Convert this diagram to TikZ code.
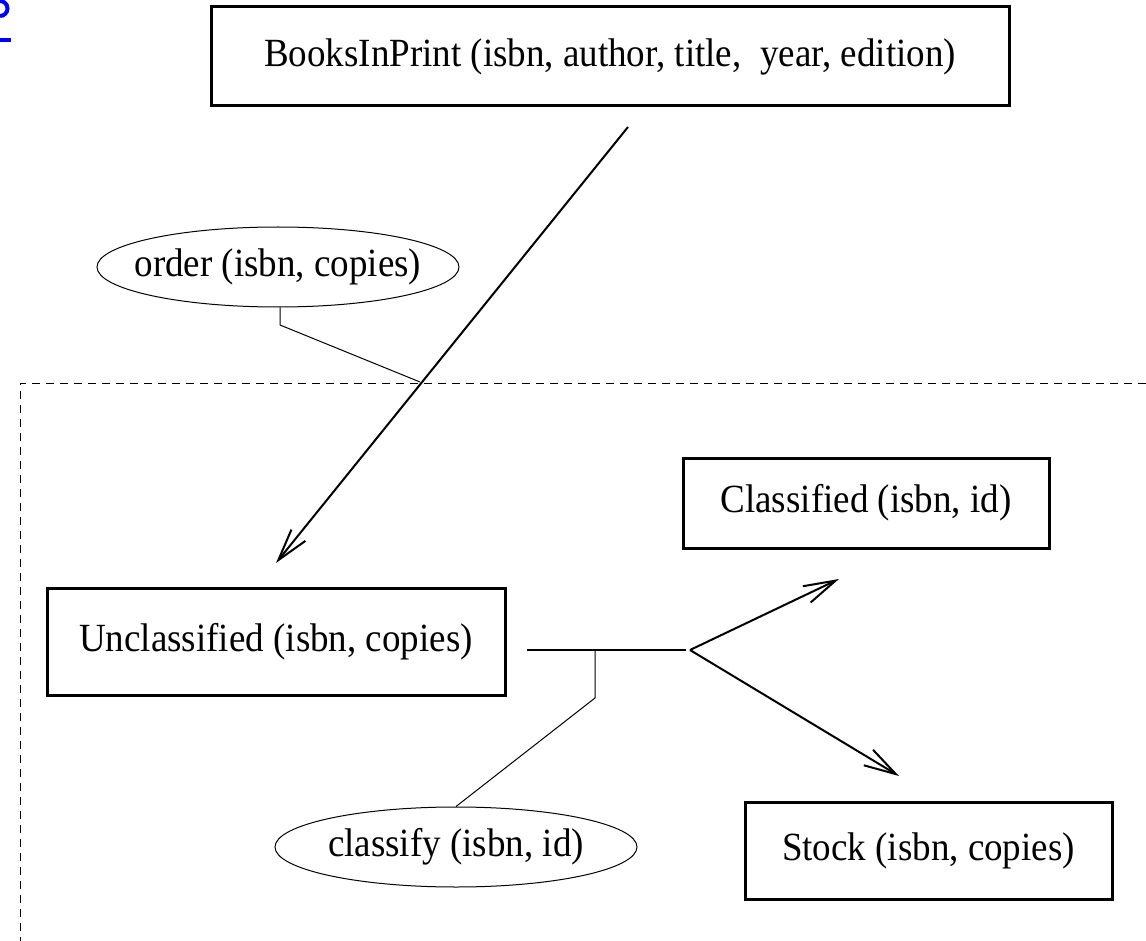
\documentclass[tikz,border=0pt]{standalone}
\usepackage{fontspec}
\setmainfont{Liberation Serif}[FakeStretch=0.925]
\usepackage{xcolor}
\usetikzlibrary{shapes.geometric,arrows.meta,positioning}
\definecolor{linkblue}{RGB}{0,0,255}

\begin{document}
\begin{tikzpicture}[x=0.5pt, y=-0.5pt]
    % Define styles
    \tikzset{
        relbox/.style={rectangle, draw=black, line width=1.5pt, inner sep=0pt, font=\fontsize{20pt}{24pt}\selectfont},
        opell/.style={ellipse, draw=black, line width=0.5pt, inner xsep=-8pt, inner ysep=0pt, minimum width=181pt, minimum height=40pt, font=\fontsize{20pt}{24pt}\selectfont},
        flow/.style={line width=1pt, -{Straight Barb[length=16pt, width=9pt]}},
        link/.style={line width=0.5pt},
        bound/.style={line width=0.5pt, dash pattern=on 4pt off 3pt}
    }
    \useasboundingbox (0,0) rectangle (1146,941);

    % Link fragment
    \draw[linkblue, line width=2pt] (0,1) arc[start angle=-90, end angle=90, radius=7.5];
    \fill[linkblue] (0,38) rectangle (11,42);

    % Boundary
    \draw[bound] (1146,383) -- (20,383) -- (20,941);

    % Relations
    \node[relbox, minimum width=399pt, minimum height=49.5pt] (books) at (610,56.5) {BooksInPrint (isbn, author, title,~ year, edition)};
    \node[relbox, minimum width=183pt, minimum height=45pt] (classified) at (866,503) {Classified (isbn, id)};
    \node[relbox, minimum width=229pt, minimum height=53.5pt] (unclassified) at (276,641.5) {Unclassified (isbn, copies)};
    \node[relbox, minimum width=183.5pt, minimum height=48.5pt] (stock) at (928.5,850.5) {Stock (isbn, copies)};

    % Operations
    \node[opell] (order) at (278,267) {order (isbn, copies)};
    \node[opell] (classify) at (456,847) {classify (isbn, id)};

    % Connector points
    \coordinate (ordfrom) at (628,127);
    \coordinate (ordto) at (276,563);
    \coordinate (ordknee) at (280,325);
    \coordinate (ordhit) at (420,382);
    \coordinate (clsfrom) at (527,650);
    \coordinate (clsend) at (686,650);
    \coordinate (clsfork) at (690,650);
    \coordinate (clsdrop) at (595,650);
    \coordinate (clsknee) at (595,698);
    \coordinate (toclass) at (839,579);
    \coordinate (tostock) at (899,776);

    % Arrows
    \draw[flow] (ordfrom) -- (ordto);
    \draw[link] (order.south -| ordknee) -- (ordknee) -- (ordhit);
    \draw[line width=1pt] (clsfrom) -- (clsend);
    \draw[flow] (clsfork) -- (toclass);
    \draw[flow] (clsfork) -- (tostock);
    \draw[link] (clsdrop) -- (clsknee) -- (classify.north);
\end{tikzpicture}
\end{document}
